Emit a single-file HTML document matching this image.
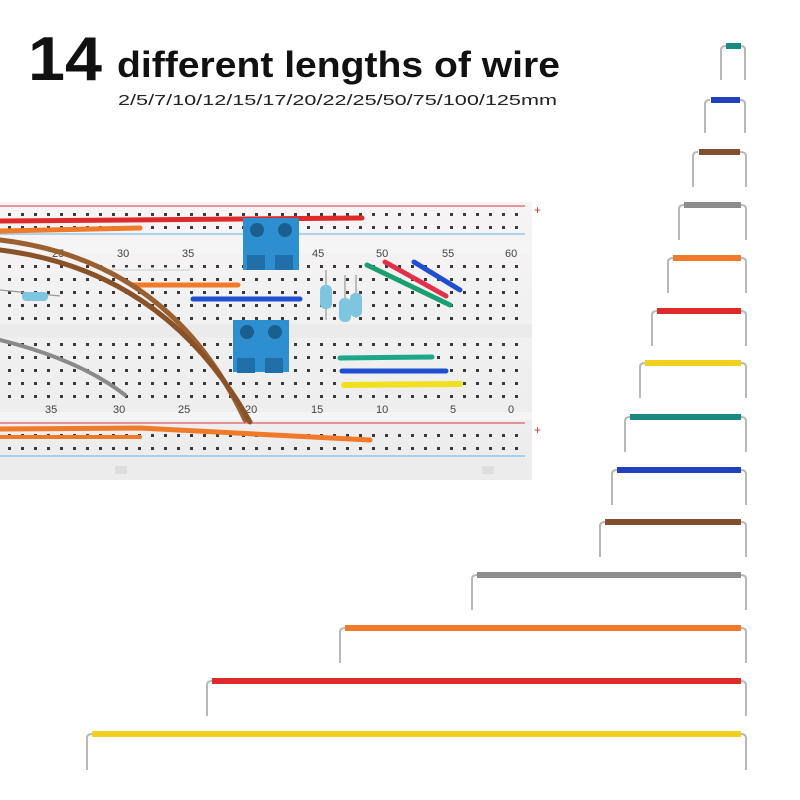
<!DOCTYPE html>
<html><head><meta charset="utf-8"><style>
html,body{margin:0;padding:0;background:#fff;width:800px;height:800px;overflow:hidden}
svg{display:block}
</style></head><body>
<svg width="800" height="800" viewBox="0 0 800 800" xmlns="http://www.w3.org/2000/svg">
<defs>
<pattern id="h" x="3" y="0" width="13" height="13" patternUnits="userSpaceOnUse"><rect x="5" y="5" width="3" height="3" fill="#3a3a3a"/></pattern>
<linearGradient id="bb" x1="0" y1="0" x2="0" y2="1"><stop offset="0" stop-color="#f6f4f4"/><stop offset="1" stop-color="#ececec"/></linearGradient>
</defs>
<text x="28" y="80" font-family="Liberation Sans, sans-serif" font-weight="bold" font-size="62" fill="#111" textLength="74" lengthAdjust="spacingAndGlyphs">14</text>
<text x="117" y="77" font-family="Liberation Sans, sans-serif" font-weight="bold" font-size="36" fill="#111" textLength="443" lengthAdjust="spacingAndGlyphs">different lengths of wire</text>
<text x="118" y="105" font-family="Liberation Sans, sans-serif" font-size="15" fill="#222" textLength="439" lengthAdjust="spacingAndGlyphs">2/5/7/10/12/15/17/20/22/25/50/75/100/125mm</text>

<!-- breadboard -->
<rect x="0" y="202" width="532" height="278" fill="url(#bb)"/>
<rect x="0" y="324" width="532" height="14" fill="#ebebeb"/>
<rect x="0" y="240" width="532" height="14" fill="#f5f5f5"/>
<rect x="0" y="412" width="532" height="8" fill="#f5f5f5"/>
<line x1="0" y1="206" x2="525" y2="206" stroke="#e05a6a" stroke-width="1.2"/>
<line x1="0" y1="234" x2="525" y2="234" stroke="#7fc0e6" stroke-width="1.2"/>
<line x1="0" y1="423" x2="525" y2="423" stroke="#e05a6a" stroke-width="1.2"/>
<line x1="0" y1="456" x2="525" y2="456" stroke="#7fc0e6" stroke-width="1.2"/>
<text x="534" y="214" font-family="Liberation Sans" font-size="12" fill="#d33">+</text>
<text x="534" y="434" font-family="Liberation Sans" font-size="12" fill="#d33">+</text>
<rect x="0" y="210" width="525" height="20" fill="url(#h)"/>
<rect x="0" y="427" width="525" height="26" fill="url(#h)"/>
<rect x="0" y="260" width="525" height="62" fill="url(#h)"/>
<rect x="0" y="342" width="525" height="66" fill="url(#h)"/>
<g font-family="Liberation Sans" font-size="11" fill="#444">
<text x="52" y="257">25</text><text x="117" y="257">30</text><text x="182" y="257">35</text><text x="312" y="257">45</text><text x="376" y="257">50</text><text x="442" y="257">55</text><text x="505" y="257">60</text>
<text x="45" y="413">35</text><text x="113" y="413">30</text><text x="178" y="413">25</text><text x="245" y="413">20</text><text x="311" y="413">15</text><text x="376" y="413">10</text><text x="450" y="413">5</text><text x="508" y="413">0</text>
</g>
<rect x="115" y="466" width="12" height="8" fill="#ddd"/><rect x="482" y="466" width="12" height="8" fill="#ddd"/>
<!-- breadboard wires -->
<g stroke-linecap="round" fill="none">
<path d="M0 221 L362 218" stroke="#e02a2a" stroke-width="5"/>
<path d="M0 231 L140 228" stroke="#f07a2a" stroke-width="5"/>
<path d="M0 429 L140 428 L370 440" stroke="#f07a2a" stroke-width="5"/>
<path d="M0 437 L140 437" stroke="#f07a2a" stroke-width="4"/>
<path d="M108 270 L190 270" stroke="#f4f4f4" stroke-width="5"/>
<path d="M108 270 L190 270" stroke="#ccc" stroke-width="1"/>
<path d="M132 285 L238 285" stroke="#f07a2a" stroke-width="5"/>
<path d="M193 299 L300 299" stroke="#1f4fd0" stroke-width="5"/>
<path d="M367 265 L450 305" stroke="#1aa070" stroke-width="5"/>
<path d="M385 262 L446 296" stroke="#e0304a" stroke-width="5"/>
<path d="M414 262 L460 290" stroke="#1f4fd0" stroke-width="5"/>
<path d="M340 358 L432 357" stroke="#1aa888" stroke-width="5"/>
<path d="M342 371 L446 371" stroke="#1f4fd0" stroke-width="5"/>
<path d="M344 385 L460 384" stroke="#f2e020" stroke-width="6"/>
<path d="M0 340 Q80 360 125 395" stroke="#8a8a8a" stroke-width="4"/>
<path d="M0 240 Q170 260 245 420" stroke="#9a6030" stroke-width="5"/>
<path d="M0 250 Q165 270 250 422" stroke="#8a5228" stroke-width="5"/>
</g>
<!-- resistors -->
<g stroke="#999" stroke-width="1.2"><line x1="326" y1="270" x2="326" y2="320"/><line x1="345" y1="275" x2="345" y2="320"/><line x1="356" y1="275" x2="356" y2="318"/><line x1="0" y1="290" x2="60" y2="296"/></g>
<rect x="320" y="285" width="12" height="24" rx="5" fill="#7ec6e0"/>
<rect x="339" y="298" width="12" height="24" rx="5" fill="#7ec6e0"/>
<rect x="350" y="293" width="12" height="24" rx="5" fill="#7ec6e0"/>
<rect x="22" y="292" width="26" height="9" rx="4" fill="#7ec6e0"/>
<!-- terminal blocks -->
<g><rect x="243" y="218" width="56" height="52" fill="#2e8fd0"/><circle cx="257" cy="230" r="7" fill="#1b5f90"/><circle cx="285" cy="230" r="7" fill="#1b5f90"/><rect x="247" y="255" width="18" height="15" fill="#216fa8"/><rect x="275" y="255" width="18" height="15" fill="#216fa8"/></g>
<g><rect x="233" y="320" width="56" height="52" fill="#2e8fd0"/><circle cx="247" cy="332" r="7" fill="#1b5f90"/><circle cx="275" cy="332" r="7" fill="#1b5f90"/><rect x="237" y="358" width="18" height="15" fill="#216fa8"/><rect x="265" y="358" width="18" height="15" fill="#216fa8"/></g>

<!-- jumper wires -->
<g fill="none" stroke="#b8b8b8" stroke-width="2">
<path d="M721 80 V50 Q721 46 726 46 M741 46 Q745 46 745 50 V80"/>
<path d="M705 133 V104 Q705 100 710 100 M740 100 Q745 100 745 104 V133"/>
<path d="M693 187 V156 Q693 152 698 152 M740 152 Q746 152 746 156 V187"/>
<path d="M679 240 V209 Q679 205 684 205 M741 205 Q746 205 746 209 V240"/>
<path d="M668 293 V262 Q668 258 673 258 M741 258 Q746 258 746 262 V293"/>
<path d="M652 346 V315 Q652 311 657 311 M741 311 Q746 311 746 315 V346"/>
<path d="M640 398 V367 Q640 363 645 363 M741 363 Q746 363 746 367 V398"/>
<path d="M625 452 V421 Q625 417 630 417 M741 417 Q746 417 746 421 V452"/>
<path d="M612 505 V474 Q612 470 617 470 M741 470 Q746 470 746 474 V505"/>
<path d="M600 557 V526 Q600 522 605 522 M741 522 Q746 522 746 526 V557"/>
<path d="M472 610 V579 Q472 575 477 575 M741 575 Q746 575 746 579 V610"/>
<path d="M340 663 V632 Q340 628 345 628 M741 628 Q746 628 746 632 V663"/>
<path d="M207 716 V685 Q207 681 212 681 M741 681 Q746 681 746 685 V716"/>
<path d="M87 770 V738 Q87 734 92 734 M741 734 Q746 734 746 738 V770"/>
</g>
<g>
<rect x="726" y="43" width="15" height="6" fill="#1a8a80"/>
<rect x="711" y="97" width="29" height="6" fill="#2040c0"/>
<rect x="699" y="149" width="41" height="6" fill="#80502e"/>
<rect x="684" y="202" width="57" height="6" fill="#8c8c8c"/>
<rect x="673" y="255" width="68" height="6" fill="#f07a2a"/>
<rect x="657" y="308" width="84" height="6" fill="#e02a2a"/>
<rect x="645" y="360" width="96" height="6" fill="#f2d020"/>
<rect x="630" y="414" width="111" height="6" fill="#1a8a80"/>
<rect x="617" y="467" width="124" height="6" fill="#2040c0"/>
<rect x="605" y="519" width="136" height="6" fill="#80502e"/>
<rect x="477" y="572" width="264" height="6" fill="#8c8c8c"/>
<rect x="345" y="625" width="396" height="6" fill="#f07a2a"/>
<rect x="212" y="678" width="529" height="6" fill="#e02a2a"/>
<rect x="92" y="731" width="649" height="6" fill="#f2d020"/>
</g>
</svg>
</body></html>
